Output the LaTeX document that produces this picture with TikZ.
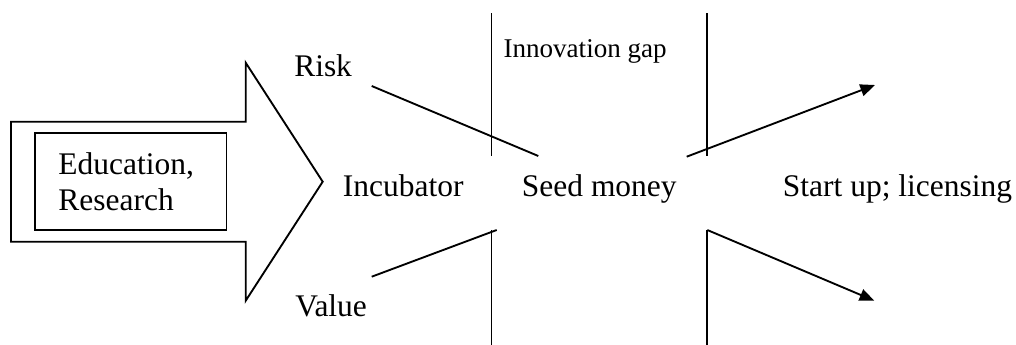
\documentclass[tikz,border=0pt]{standalone}
\usepackage{fontspec}
\setmainfont{Liberation Serif}
\usetikzlibrary{arrows.meta}
\begin{document}
\begin{tikzpicture}[x=0.75pt,y=-0.75pt,
  stroke/.style={line width=1.4pt},
  label/.style={anchor=base west,inner sep=0pt,font=\fontsize{23.6}{27.5}\selectfont},
  smalllabel/.style={anchor=base west,inner sep=0pt,font=\fontsize{20.3}{24}\selectfont},
  tip/.style={-{Triangle[length=11pt,width=9pt]}}]
\useasboundingbox (0,0) rectangle (1016,345);

% big block arrow
\draw[stroke,line join=miter] (11,121.7) -- (245.7,121.7) -- (245.7,62.7) -- (322.7,181.7)
  -- (245.7,300.7) -- (245.7,241.7) -- (11,241.7) -- cycle;

% inner box with text
\node[draw,stroke,align=left,text width=108.5pt,inner xsep=17.5pt,inner ysep=0pt,
      minimum height=72.5pt,font=\fontsize{23.6}{27.5}\selectfont] (edu) at (130.8,181.7)
  {Education,\\Research};

% labels
\node[label] (risk) at (294,76.7) {Risk};
\node[label] (value) at (295,316) {Value};
\node[label] (incub) at (342.7,196.7) {Incubator};
\node[label] (seed) at (521.7,196.7) {Seed money};
\node[label] (start) at (782.7,196.7) {Start up; licensing};
\node[smalllabel] (gap) at (503.3,57.3) {Innovation gap};

% end points of the lines
\coordinate (lt1) at (491.5,13.3);  \coordinate (lt2) at (491.5,156);
\coordinate (lb1) at (491.5,230);   \coordinate (lb2) at (491.5,346);
\coordinate (rt1) at (707.3,13.3);  \coordinate (rt2) at (707.3,156);
\coordinate (rb1) at (707.3,230);   \coordinate (rb2) at (707.3,346);
\coordinate (r1) at (371.7,86);     \coordinate (r2) at (538.3,156);
\coordinate (v1) at (371.7,276.7);  \coordinate (v2) at (496.7,230);
\coordinate (u1) at (686.7,156.7);  \coordinate (u2) at (875,85);
\coordinate (d2) at (874.3,300.7);

% innovation gap boundaries
\draw[stroke] (lt1) -- (lt2);
\draw[stroke] (lb1) -- (lb2);
\draw[stroke] (rt1) -- (rt2);
\draw[stroke] (rb2) -- (rb1);

% risk and value lines
\draw[stroke] (r1) -- (r2);
\draw[stroke] (v1) -- (v2);

% outgoing arrows
\draw[stroke,tip] (u1) -- (u2);
\draw[stroke,tip] (rb1) -- (d2);
\end{tikzpicture}
\end{document}
